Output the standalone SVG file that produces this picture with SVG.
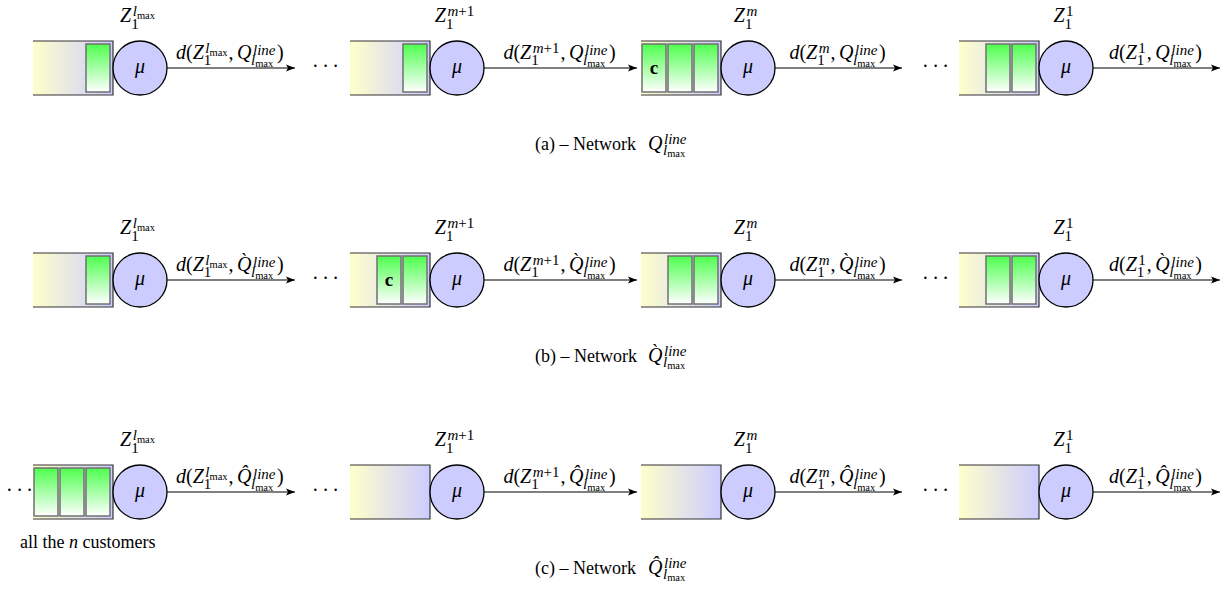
<svg xmlns="http://www.w3.org/2000/svg" width="1228" height="591" viewBox="0 0 1228 591" font-family="'Liberation Serif', 'DejaVu Serif', serif">
<style>
text{font-family:'Liberation Serif','DejaVu Serif',serif;fill:#000}
.mi{font-size:20px;font-style:italic}
.mr{font-size:20px;font-style:normal}
.si{font-size:15px;font-style:italic}
.sr{font-size:15px;font-style:normal}
.ss{font-size:10.5px;font-style:normal}
.cap{font-size:18px;font-style:normal}
.mu{font-size:20px;font-style:italic;text-anchor:middle}
.cb{font-size:19px;font-weight:bold;text-anchor:middle}
.dots{font-size:20px;letter-spacing:3.5px}
.q{fill:url(#qg)}
.qe{fill:none;stroke:#333;stroke-width:1.2}
.blk{fill:url(#bg);stroke:#707070;stroke-width:1.5}
.srv{fill:#ccccff;stroke:#000;stroke-width:1.3}
.arr{stroke:#000;stroke-width:1.2;fill:none;marker-end:url(#ah)}
</style>
<defs>
<linearGradient id="qg" x1="0" y1="0" x2="1" y2="0"><stop offset="0" stop-color="#ffffcc"/><stop offset="1" stop-color="#ccccff"/></linearGradient>
<linearGradient id="bg" x1="0" y1="0" x2="0" y2="1"><stop offset="0" stop-color="#4dff4d"/><stop offset="1" stop-color="#ffffff"/></linearGradient>
<marker id="ah" markerWidth="10" markerHeight="8" refX="9" refY="4" orient="auto" markerUnits="userSpaceOnUse"><path d="M0,0.5 L9,4 L0,7.5 L2,4 z" fill="#000"/></marker>
</defs>
<rect width="1228" height="591" fill="#fff"/>

<!-- ===== Row (a) cy=68 ===== -->
<g id="a-s1">
<rect class="q" x="33" y="41" width="80" height="54"/><path class="qe" d="M33,41H113V95H33"/>
<rect class="blk" x="86" y="44" width="24" height="48"/>
<circle class="srv" cx="140" cy="68" r="27"/><text class="mu" x="140" y="73">μ</text>
<text class="mi" x="120.1" y="22">Z</text><text class="si" x="132.7" y="16">l</text><text class="ss" x="136.9" y="18.5">max</text><text class="sr" x="131.2" y="29">1</text>
</g>
<g id="a-s2">
<rect class="q" x="350" y="41" width="80" height="54"/><path class="qe" d="M350,41H430V95H350"/>
<rect class="blk" x="403" y="44" width="24" height="48"/>
<circle class="srv" cx="457" cy="68" r="27"/><text class="mu" x="457" y="73">μ</text>
<text class="mi" x="434.8" y="22">Z</text><text class="si" x="447.4" y="16">m<tspan class="sr">+1</tspan></text><text class="sr" x="445.9" y="29">1</text>
</g>
<g id="a-s3">
<rect class="q" x="641" y="41" width="80" height="54"/><path class="qe" d="M641,41H721V95H641"/>
<rect class="blk" x="694" y="44" width="24" height="48"/><rect class="blk" x="668" y="44" width="24" height="48"/><rect class="blk" x="642" y="44" width="24" height="48"/>
<text class="cb" x="654" y="74">c</text>
<circle class="srv" cx="748" cy="68" r="27"/><text class="mu" x="748" y="73">μ</text>
<text class="mi" x="733.8" y="22">Z</text><text class="si" x="746.4" y="16">m</text><text class="sr" x="744.9" y="29">1</text>
</g>
<g id="a-s4">
<rect class="q" x="959" y="41" width="80" height="54"/><path class="qe" d="M959,41H1039V95H959"/>
<rect class="blk" x="1012" y="44" width="24" height="48"/><rect class="blk" x="986" y="44" width="24" height="48"/>
<circle class="srv" cx="1066" cy="68" r="27"/><text class="mu" x="1066" y="73">μ</text>
<text class="mi" x="1053.5" y="22">Z</text><text class="sr" x="1066.1" y="16">1</text><text class="sr" x="1064.6" y="29">1</text>
</g>

<!-- ===== Row (b) cy=280 ===== -->
<g id="b-s1">
<rect class="q" x="33" y="253" width="80" height="54"/><path class="qe" d="M33,253H113V307H33"/>
<rect class="blk" x="86" y="256" width="24" height="48"/>
<circle class="srv" cx="140" cy="280" r="27"/><text class="mu" x="140" y="285">μ</text>
<text class="mi" x="120.1" y="234">Z</text><text class="si" x="132.7" y="228">l</text><text class="ss" x="136.9" y="230.5">max</text><text class="sr" x="131.2" y="241">1</text>
</g>
<g id="b-s2">
<rect class="q" x="350" y="253" width="80" height="54"/><path class="qe" d="M350,253H430V307H350"/>
<rect class="blk" x="403" y="256" width="24" height="48"/><rect class="blk" x="377" y="256" width="24" height="48"/>
<text class="cb" x="389" y="286">c</text>
<circle class="srv" cx="457" cy="280" r="27"/><text class="mu" x="457" y="285">μ</text>
<text class="mi" x="434.8" y="234">Z</text><text class="si" x="447.4" y="228">m<tspan class="sr">+1</tspan></text><text class="sr" x="445.9" y="241">1</text>
</g>
<g id="b-s3">
<rect class="q" x="641" y="253" width="80" height="54"/><path class="qe" d="M641,253H721V307H641"/>
<rect class="blk" x="694" y="256" width="24" height="48"/><rect class="blk" x="668" y="256" width="24" height="48"/>
<circle class="srv" cx="748" cy="280" r="27"/><text class="mu" x="748" y="285">μ</text>
<text class="mi" x="733.8" y="234">Z</text><text class="si" x="746.4" y="228">m</text><text class="sr" x="744.9" y="241">1</text>
</g>
<g id="b-s4">
<rect class="q" x="959" y="253" width="80" height="54"/><path class="qe" d="M959,253H1039V307H959"/>
<rect class="blk" x="1012" y="256" width="24" height="48"/><rect class="blk" x="986" y="256" width="24" height="48"/>
<circle class="srv" cx="1066" cy="280" r="27"/><text class="mu" x="1066" y="285">μ</text>
<text class="mi" x="1053.5" y="234">Z</text><text class="sr" x="1066.1" y="228">1</text><text class="sr" x="1064.6" y="241">1</text>
</g>

<!-- ===== Row (c) cy=492 ===== -->
<g id="c-s1">
<rect class="q" x="33" y="465" width="80" height="54"/><path class="qe" d="M33,465H113V519H33"/>
<rect class="blk" x="86" y="468" width="24" height="48"/><rect class="blk" x="60" y="468" width="24" height="48"/><rect class="blk" x="34" y="468" width="24" height="48"/>
<circle class="srv" cx="140" cy="492" r="27"/><text class="mu" x="140" y="497">μ</text>
<text class="mi" x="120.1" y="446">Z</text><text class="si" x="132.7" y="440">l</text><text class="ss" x="136.9" y="442.5">max</text><text class="sr" x="131.2" y="453">1</text>
</g>
<g id="c-s2">
<rect class="q" x="350" y="465" width="80" height="54"/><path class="qe" d="M350,465H430V519H350"/>
<circle class="srv" cx="457" cy="492" r="27"/><text class="mu" x="457" y="497">μ</text>
<text class="mi" x="434.8" y="446">Z</text><text class="si" x="447.4" y="440">m<tspan class="sr">+1</tspan></text><text class="sr" x="445.9" y="453">1</text>
</g>
<g id="c-s3">
<rect class="q" x="641" y="465" width="80" height="54"/><path class="qe" d="M641,465H721V519H641"/>
<circle class="srv" cx="748" cy="492" r="27"/><text class="mu" x="748" y="497">μ</text>
<text class="mi" x="733.8" y="446">Z</text><text class="si" x="746.4" y="440">m</text><text class="sr" x="744.9" y="453">1</text>
</g>
<g id="c-s4">
<rect class="q" x="959" y="465" width="80" height="54"/><path class="qe" d="M959,465H1039V519H959"/>
<circle class="srv" cx="1066" cy="492" r="27"/><text class="mu" x="1066" y="497">μ</text>
<text class="mi" x="1053.5" y="446">Z</text><text class="sr" x="1066.1" y="440">1</text><text class="sr" x="1064.6" y="453">1</text>
</g>

<!-- ===== Connectors ===== -->
<g id="connectors">
<path class="arr" d="M167,68H295"/><path class="arr" d="M484,68H637"/><path class="arr" d="M775,68H902"/><path class="arr" d="M1093,68H1220"/>
<path class="arr" d="M167,280H295"/><path class="arr" d="M484,280H637"/><path class="arr" d="M775,280H902"/><path class="arr" d="M1093,280H1220"/>
<path class="arr" d="M167,492H295"/><path class="arr" d="M484,492H637"/><path class="arr" d="M775,492H902"/><path class="arr" d="M1093,492H1220"/>
</g>

<!-- ===== Arrow labels ===== -->
<g id="labels-a">
<text class="mr" x="176" y="59"><tspan class="mi">d</tspan>(<tspan class="mi">Z</tspan></text><text class="si" x="205.3" y="53">l</text><text class="ss" x="209.5" y="55.5">max</text><text class="sr" x="203.8" y="64.5">1</text><text class="mr" x="228.6" y="59">,</text><text class="mi" x="237" y="59">Q</text><text class="si" x="253" y="55">line</text><text class="si" x="251" y="64.5">l</text><text class="ss" x="255.2" y="66.5">max</text><text class="mr" x="277" y="59">)</text>
<text class="mr" x="503.4" y="59"><tspan class="mi">d</tspan>(<tspan class="mi">Z</tspan></text><text class="si" x="532.7" y="53">m<tspan class="sr">+1</tspan></text><text class="sr" x="531.2" y="64.5">1</text><text class="mr" x="560.5" y="59">,</text><text class="mi" x="569" y="59">Q</text><text class="si" x="585" y="55">line</text><text class="si" x="583" y="64.5">l</text><text class="ss" x="587.2" y="66.5">max</text><text class="mr" x="609" y="59">)</text>
<text class="mr" x="789.4" y="59"><tspan class="mi">d</tspan>(<tspan class="mi">Z</tspan></text><text class="si" x="818.7" y="53">m</text><text class="sr" x="817.2" y="64.5">1</text><text class="mr" x="830.5" y="59">,</text><text class="mi" x="839" y="59">Q</text><text class="si" x="855" y="55">line</text><text class="si" x="853" y="64.5">l</text><text class="ss" x="857.2" y="66.5">max</text><text class="mr" x="879" y="59">)</text>
<text class="mr" x="1109" y="59"><tspan class="mi">d</tspan>(<tspan class="mi">Z</tspan></text><text class="sr" x="1138.3" y="53">1</text><text class="sr" x="1136.8" y="64.5">1</text><text class="mr" x="1146.8" y="59">,</text><text class="mi" x="1155.3" y="59">Q</text><text class="si" x="1171.3" y="55">line</text><text class="si" x="1169.3" y="64.5">l</text><text class="ss" x="1173.5" y="66.5">max</text><text class="mr" x="1195.3" y="59">)</text>
</g>
<g id="labels-b">
<text class="mr" x="176" y="271"><tspan class="mi">d</tspan>(<tspan class="mi">Z</tspan></text><text class="si" x="205.3" y="265">l</text><text class="ss" x="209.5" y="267.5">max</text><text class="sr" x="203.8" y="276.5">1</text><text class="mr" x="228.6" y="271">,</text><text class="mi" x="237" y="271">Q̀</text><text class="si" x="253" y="267">line</text><text class="si" x="251" y="276.5">l</text><text class="ss" x="255.2" y="278.5">max</text><text class="mr" x="277" y="271">)</text>
<text class="mr" x="503.4" y="271"><tspan class="mi">d</tspan>(<tspan class="mi">Z</tspan></text><text class="si" x="532.7" y="265">m<tspan class="sr">+1</tspan></text><text class="sr" x="531.2" y="276.5">1</text><text class="mr" x="560.5" y="271">,</text><text class="mi" x="569" y="271">Q̀</text><text class="si" x="585" y="267">line</text><text class="si" x="583" y="276.5">l</text><text class="ss" x="587.2" y="278.5">max</text><text class="mr" x="609" y="271">)</text>
<text class="mr" x="789.4" y="271"><tspan class="mi">d</tspan>(<tspan class="mi">Z</tspan></text><text class="si" x="818.7" y="265">m</text><text class="sr" x="817.2" y="276.5">1</text><text class="mr" x="830.5" y="271">,</text><text class="mi" x="839" y="271">Q̀</text><text class="si" x="855" y="267">line</text><text class="si" x="853" y="276.5">l</text><text class="ss" x="857.2" y="278.5">max</text><text class="mr" x="879" y="271">)</text>
<text class="mr" x="1109" y="271"><tspan class="mi">d</tspan>(<tspan class="mi">Z</tspan></text><text class="sr" x="1138.3" y="265">1</text><text class="sr" x="1136.8" y="276.5">1</text><text class="mr" x="1146.8" y="271">,</text><text class="mi" x="1155.3" y="271">Q̀</text><text class="si" x="1171.3" y="267">line</text><text class="si" x="1169.3" y="276.5">l</text><text class="ss" x="1173.5" y="278.5">max</text><text class="mr" x="1195.3" y="271">)</text>
</g>
<g id="labels-c">
<text class="mr" x="176" y="483"><tspan class="mi">d</tspan>(<tspan class="mi">Z</tspan></text><text class="si" x="205.3" y="477">l</text><text class="ss" x="209.5" y="479.5">max</text><text class="sr" x="203.8" y="488.5">1</text><text class="mr" x="228.6" y="483">,</text><text class="mi" x="237" y="483">Q̂</text><text class="si" x="253" y="479">line</text><text class="si" x="251" y="488.5">l</text><text class="ss" x="255.2" y="490.5">max</text><text class="mr" x="277" y="483">)</text>
<text class="mr" x="503.4" y="483"><tspan class="mi">d</tspan>(<tspan class="mi">Z</tspan></text><text class="si" x="532.7" y="477">m<tspan class="sr">+1</tspan></text><text class="sr" x="531.2" y="488.5">1</text><text class="mr" x="560.5" y="483">,</text><text class="mi" x="569" y="483">Q̂</text><text class="si" x="585" y="479">line</text><text class="si" x="583" y="488.5">l</text><text class="ss" x="587.2" y="490.5">max</text><text class="mr" x="609" y="483">)</text>
<text class="mr" x="789.4" y="483"><tspan class="mi">d</tspan>(<tspan class="mi">Z</tspan></text><text class="si" x="818.7" y="477">m</text><text class="sr" x="817.2" y="488.5">1</text><text class="mr" x="830.5" y="483">,</text><text class="mi" x="839" y="483">Q̂</text><text class="si" x="855" y="479">line</text><text class="si" x="853" y="488.5">l</text><text class="ss" x="857.2" y="490.5">max</text><text class="mr" x="879" y="483">)</text>
<text class="mr" x="1109" y="483"><tspan class="mi">d</tspan>(<tspan class="mi">Z</tspan></text><text class="sr" x="1138.3" y="477">1</text><text class="sr" x="1136.8" y="488.5">1</text><text class="mr" x="1146.8" y="483">,</text><text class="mi" x="1155.3" y="483">Q̂</text><text class="si" x="1171.3" y="479">line</text><text class="si" x="1169.3" y="488.5">l</text><text class="ss" x="1173.5" y="490.5">max</text><text class="mr" x="1195.3" y="483">)</text>
</g>

<!-- ===== Ellipses ===== -->
<g id="ellipses">
<text class="dots" x="312" y="73">···</text><text class="dots" x="922" y="73">···</text>
<text class="dots" x="312" y="285">···</text><text class="dots" x="922" y="285">···</text>
<text class="dots" x="6" y="497">···</text><text class="dots" x="312" y="497">···</text><text class="dots" x="922" y="497">···</text>
</g>

<!-- ===== Captions ===== -->
<g id="captions">
<text class="cap" x="535" y="150">(a) – Network</text><text class="mi" x="648" y="150">Q</text><text class="si" x="664" y="144">line</text><text class="si" x="663" y="154.5">l</text><text class="ss" x="667.2" y="157">max</text>
<text class="cap" x="535" y="362">(b) – Network</text><text class="mi" x="648" y="362">Q̀</text><text class="si" x="664" y="356">line</text><text class="si" x="663" y="366.5">l</text><text class="ss" x="667.2" y="369">max</text>
<text class="cap" x="535" y="574">(c) – Network</text><text class="mi" x="648" y="574">Q̂</text><text class="si" x="664" y="568">line</text><text class="si" x="663" y="578.5">l</text><text class="ss" x="667.2" y="581">max</text>
<text class="cap" x="20" y="548">all the <tspan font-style="italic">n</tspan> customers</text>
</g>
</svg>
